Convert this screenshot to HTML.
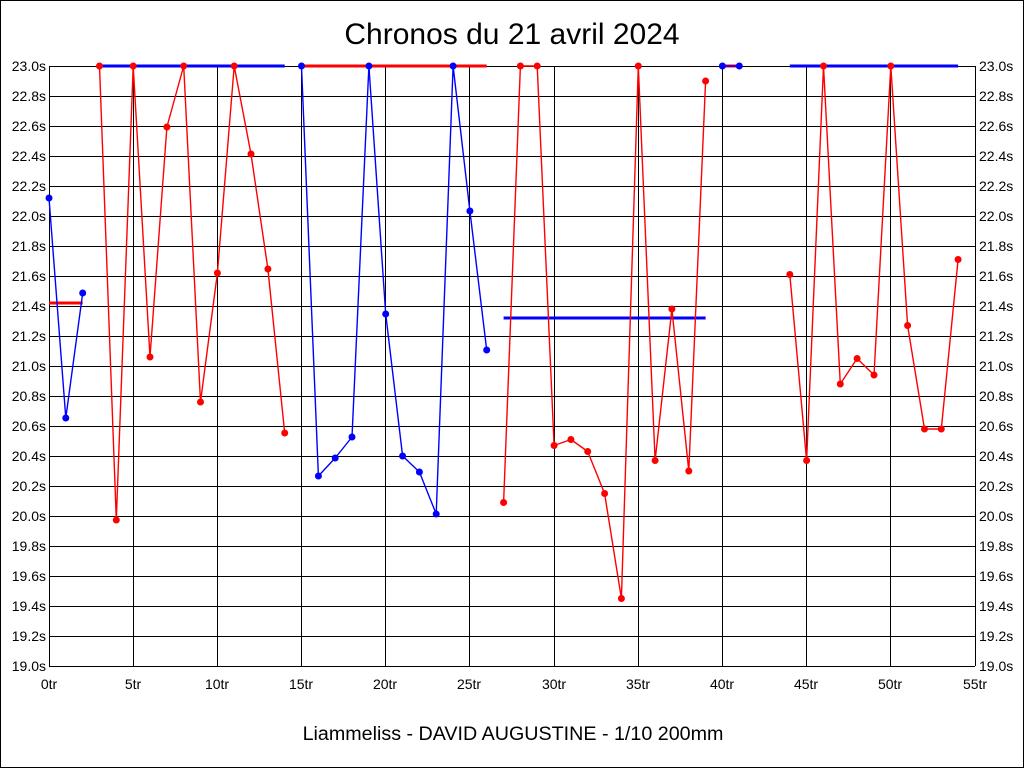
<!DOCTYPE html>
<html><head><meta charset="utf-8"><style>
html,body{margin:0;padding:0;background:#fff}
svg{display:block}
text{font-family:"Liberation Sans",Arial,sans-serif;fill:#000}
</style></head><body>
<svg width="1024" height="768" viewBox="0 0 1024 768" xmlns="http://www.w3.org/2000/svg">
<rect x="0.5" y="0.5" width="1023" height="767" fill="#fff" stroke="#000"/>
<text x="512" y="44" font-size="30" text-anchor="middle">Chronos du 21 avril 2024</text>
<text x="513" y="740" font-size="19.7" text-anchor="middle">Liammeliss - DAVID AUGUSTINE - 1/10 200mm</text>
<g stroke="#000" stroke-width="1" shape-rendering="crispEdges">
<line x1="49" y1="66.5" x2="975" y2="66.5"/><line x1="49" y1="96.5" x2="975" y2="96.5"/><line x1="49" y1="126.5" x2="975" y2="126.5"/><line x1="49" y1="156.5" x2="975" y2="156.5"/><line x1="49" y1="186.5" x2="975" y2="186.5"/><line x1="49" y1="216.5" x2="975" y2="216.5"/><line x1="49" y1="246.5" x2="975" y2="246.5"/><line x1="49" y1="276.5" x2="975" y2="276.5"/><line x1="49" y1="306.5" x2="975" y2="306.5"/><line x1="49" y1="336.5" x2="975" y2="336.5"/><line x1="49" y1="366.5" x2="975" y2="366.5"/><line x1="49" y1="396.5" x2="975" y2="396.5"/><line x1="49" y1="426.5" x2="975" y2="426.5"/><line x1="49" y1="456.5" x2="975" y2="456.5"/><line x1="49" y1="486.5" x2="975" y2="486.5"/><line x1="49" y1="516.5" x2="975" y2="516.5"/><line x1="49" y1="546.5" x2="975" y2="546.5"/><line x1="49" y1="576.5" x2="975" y2="576.5"/><line x1="49" y1="606.5" x2="975" y2="606.5"/><line x1="49" y1="636.5" x2="975" y2="636.5"/><line x1="49" y1="666.5" x2="975" y2="666.5"/>
<line x1="49.5" y1="66" x2="49.5" y2="666"/><line x1="133.5" y1="66" x2="133.5" y2="666"/><line x1="217.5" y1="66" x2="217.5" y2="666"/><line x1="301.5" y1="66" x2="301.5" y2="666"/><line x1="385.5" y1="66" x2="385.5" y2="666"/><line x1="469.5" y1="66" x2="469.5" y2="666"/><line x1="554.5" y1="66" x2="554.5" y2="666"/><line x1="638.5" y1="66" x2="638.5" y2="666"/><line x1="722.5" y1="66" x2="722.5" y2="666"/><line x1="806.5" y1="66" x2="806.5" y2="666"/><line x1="890.5" y1="66" x2="890.5" y2="666"/><line x1="975.5" y1="66" x2="975.5" y2="666"/>
</g>
<g font-size="14" text-anchor="end">
<text x="46" y="71">23.0s</text><text x="46" y="101">22.8s</text><text x="46" y="131">22.6s</text><text x="46" y="161">22.4s</text><text x="46" y="191">22.2s</text><text x="46" y="221">22.0s</text><text x="46" y="251">21.8s</text><text x="46" y="281">21.6s</text><text x="46" y="311">21.4s</text><text x="46" y="341">21.2s</text><text x="46" y="371">21.0s</text><text x="46" y="401">20.8s</text><text x="46" y="431">20.6s</text><text x="46" y="461">20.4s</text><text x="46" y="491">20.2s</text><text x="46" y="521">20.0s</text><text x="46" y="551">19.8s</text><text x="46" y="581">19.6s</text><text x="46" y="611">19.4s</text><text x="46" y="641">19.2s</text><text x="46" y="671">19.0s</text>
</g>
<g font-size="14" text-anchor="start">
<text x="979" y="71">23.0s</text><text x="979" y="101">22.8s</text><text x="979" y="131">22.6s</text><text x="979" y="161">22.4s</text><text x="979" y="191">22.2s</text><text x="979" y="221">22.0s</text><text x="979" y="251">21.8s</text><text x="979" y="281">21.6s</text><text x="979" y="311">21.4s</text><text x="979" y="341">21.2s</text><text x="979" y="371">21.0s</text><text x="979" y="401">20.8s</text><text x="979" y="431">20.6s</text><text x="979" y="461">20.4s</text><text x="979" y="491">20.2s</text><text x="979" y="521">20.0s</text><text x="979" y="551">19.8s</text><text x="979" y="581">19.6s</text><text x="979" y="611">19.4s</text><text x="979" y="641">19.2s</text><text x="979" y="671">19.0s</text>
</g>
<g font-size="14" text-anchor="middle">
<text x="49" y="689">0tr</text><text x="133" y="689">5tr</text><text x="217" y="689">10tr</text><text x="301" y="689">15tr</text><text x="385" y="689">20tr</text><text x="469" y="689">25tr</text><text x="554" y="689">30tr</text><text x="638" y="689">35tr</text><text x="722" y="689">40tr</text><text x="806" y="689">45tr</text><text x="890" y="689">50tr</text><text x="975" y="689">55tr</text>
</g>
<g stroke-width="3" fill="none">
<line x1="49" y1="303" x2="82.7" y2="303" stroke="#f00"/>
<line x1="99.5" y1="66" x2="284.7" y2="66" stroke="#00f"/>
<line x1="301.5" y1="66" x2="486.7" y2="66" stroke="#f00"/>
<line x1="503.6" y1="318" x2="705.6" y2="318" stroke="#00f"/>
<line x1="722.4" y1="66" x2="739.3" y2="66" stroke="#f00"/>
<line x1="789.8" y1="66" x2="958.1" y2="66" stroke="#00f"/>
</g>
<g fill="none" stroke-width="1.4" stroke-linejoin="round">
<polyline stroke="#00f" points="49,198 65.8,418 82.7,293"/>
<polyline stroke="#f00" points="99.5,66 116.3,520 133.2,66 150,357 166.9,127 183.7,66 200.5,402 217.4,273 234.2,66 251,154 267.9,269 284.7,433"/>
<polyline stroke="#00f" points="301.5,66 318.4,476 335.2,458 352,437 368.9,66 385.7,314 402.6,456 419.4,472 436.2,514 453.1,66 469.9,211 486.7,350"/>
<polyline stroke="#f00" points="503.6,502.5 520.4,66 537.2,66 554.1,445.5 570.9,439.5 587.7,451.5 604.6,493.5 621.4,598.5 638.3,66 655.1,460.5 671.9,309 688.8,471 705.6,81"/>
<polyline stroke="#00f" points="722.4,66 739.3,66"/>
<polyline stroke="#f00" points="789.8,274.5 806.6,460.5 823.5,66 840.3,384 857.1,358.5 874,375 890.8,66 907.6,325.5 924.5,429 941.3,429 958.1,259.5"/>
</g>
<g fill="#00f">
<circle cx="49" cy="198" r="3.5"/><circle cx="65.8" cy="418" r="3.5"/><circle cx="82.7" cy="293" r="3.5"/>
<circle cx="301.5" cy="66" r="3.5"/><circle cx="318.4" cy="476" r="3.5"/><circle cx="335.2" cy="458" r="3.5"/><circle cx="352" cy="437" r="3.5"/><circle cx="368.9" cy="66" r="3.5"/><circle cx="385.7" cy="314" r="3.5"/><circle cx="402.6" cy="456" r="3.5"/><circle cx="419.4" cy="472" r="3.5"/><circle cx="436.2" cy="514" r="3.5"/><circle cx="453.1" cy="66" r="3.5"/><circle cx="469.9" cy="211" r="3.5"/><circle cx="486.7" cy="350" r="3.5"/>
<circle cx="722.4" cy="66" r="3.5"/><circle cx="739.3" cy="66" r="3.5"/>
</g>
<g fill="#f00">
<circle cx="99.5" cy="66" r="3.5"/><circle cx="116.3" cy="520" r="3.5"/><circle cx="133.2" cy="66" r="3.5"/><circle cx="150" cy="357" r="3.5"/><circle cx="166.9" cy="127" r="3.5"/><circle cx="183.7" cy="66" r="3.5"/><circle cx="200.5" cy="402" r="3.5"/><circle cx="217.4" cy="273" r="3.5"/><circle cx="234.2" cy="66" r="3.5"/><circle cx="251" cy="154" r="3.5"/><circle cx="267.9" cy="269" r="3.5"/><circle cx="284.7" cy="433" r="3.5"/>
<circle cx="503.6" cy="502.5" r="3.5"/><circle cx="520.4" cy="66" r="3.5"/><circle cx="537.2" cy="66" r="3.5"/><circle cx="554.1" cy="445.5" r="3.5"/><circle cx="570.9" cy="439.5" r="3.5"/><circle cx="587.7" cy="451.5" r="3.5"/><circle cx="604.6" cy="493.5" r="3.5"/><circle cx="621.4" cy="598.5" r="3.5"/><circle cx="638.3" cy="66" r="3.5"/><circle cx="655.1" cy="460.5" r="3.5"/><circle cx="671.9" cy="309" r="3.5"/><circle cx="688.8" cy="471" r="3.5"/><circle cx="705.6" cy="81" r="3.5"/>
<circle cx="789.8" cy="274.5" r="3.5"/><circle cx="806.6" cy="460.5" r="3.5"/><circle cx="823.5" cy="66" r="3.5"/><circle cx="840.3" cy="384" r="3.5"/><circle cx="857.1" cy="358.5" r="3.5"/><circle cx="874" cy="375" r="3.5"/><circle cx="890.8" cy="66" r="3.5"/><circle cx="907.6" cy="325.5" r="3.5"/><circle cx="924.5" cy="429" r="3.5"/><circle cx="941.3" cy="429" r="3.5"/><circle cx="958.1" cy="259.5" r="3.5"/>
</g>
</svg>
</body></html>
